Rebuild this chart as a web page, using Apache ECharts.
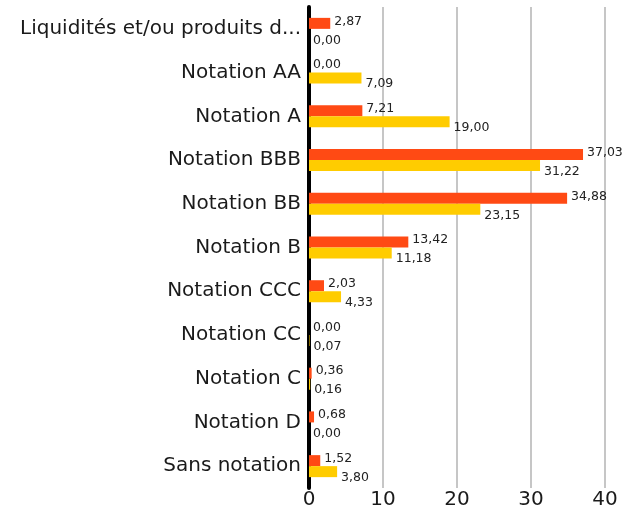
<!DOCTYPE html>
<html lang="fr">
<head>
    <meta charset="UTF-8">
    <title>Notations</title>
    <script src="https://cdn.jsdelivr.net/npm/echarts@6.0.0/dist/echarts.min.js"></script>
    <style>
        body { margin: 0; background: #fff; }
        #chart { width: 640px; height: 511px; }
    </style>
</head>
<body>
    <div id="chart"></div>
    <script>
        // catégories de notation (haut -> bas)
        const categories = ['Liquidités et/ou produits dérivés', 'Notation AA', 'Notation A', 'Notation BBB',
            'Notation BB', 'Notation B', 'Notation CCC', 'Notation CC', 'Notation C', 'Notation D', 'Sans notation'];
        const serieOrange = [2.87, 0.00, 7.21, 37.03, 34.88, 13.42, 2.03, 0.00, 0.36, 0.68, 1.52];
        const serieJaune = [0.00, 7.09, 19.00, 31.22, 23.15, 11.18, 4.33, 0.07, 0.16, 0.00, 3.80];
        const xTicks = [0, 10, 20, 30, 40];

        const fmt = p => p.value.toFixed(2).replace('.', ',');
        const police = '"DejaVu Sans", sans-serif';

        const chart = echarts.init(document.getElementById('chart'));
        chart.setOption({
            animation: false,
            textStyle: { fontFamily: police },
            grid: { left: 309, right: 35, top: 7, bottom: 23 },
            xAxis: {
                type: 'value',
                min: xTicks[0],
                max: xTicks[xTicks.length - 1],
                interval: 10,
                axisLine: { show: false },
                axisTick: { show: false },
                axisLabel: { color: '#1a1a1a', fontSize: 20, margin: 2 },
                splitLine: { lineStyle: { color: '#c6c6c6', width: 2 } }
            },
            yAxis: {
                type: 'category',
                data: categories,
                inverse: true,
                axisLine: { lineStyle: { color: '#000', width: 4 } },
                axisTick: { show: false },
                axisLabel: {
                    color: '#1a1a1a', fontSize: 20, margin: 8,
                    width: 285, overflow: 'truncate', ellipsis: '...'
                }
            },
            series: [
                {
                    type: 'bar',
                    data: serieOrange,
                    barWidth: 11,
                    barGap: '0%',
                    itemStyle: { color: '#FF4A14' },
                    label: {
                        show: true, position: 'right', distance: 4,
                        offset: [0, -2], formatter: fmt, color: '#222', fontSize: 12.5
                    }
                },
                {
                    type: 'bar',
                    data: serieJaune,
                    barWidth: 11,
                    itemStyle: { color: '#FFCC00' },
                    label: {
                        show: true, position: 'right', distance: 4,
                        offset: [0, 6], formatter: fmt, color: '#222', fontSize: 12.5
                    }
                }
            ]
        });
    </script>
</body>
</html>
